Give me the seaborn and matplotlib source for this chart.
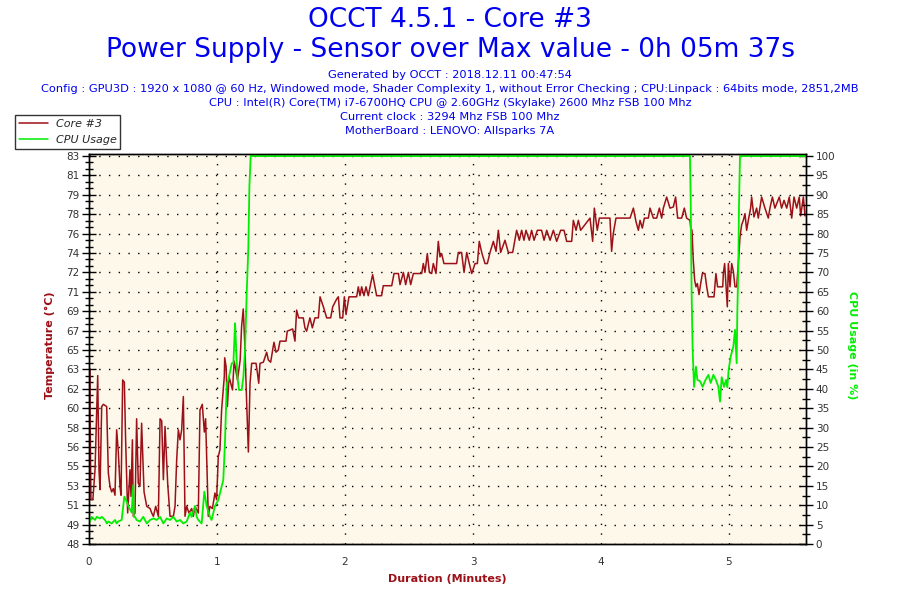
import numpy as np
import pandas as pd
import seaborn as sns
import matplotlib.pyplot as plt
from matplotlib.ticker import MultipleLocator, FixedLocator
from matplotlib.lines import Line2D

# Core #3 temperature (deg C) against duration (minutes)
t_core = [0.000, 0.005, 0.015, 0.030, 0.047, 0.068, 0.078, 0.086, 0.099, 0.112,
          0.138, 0.151, 0.164, 0.177, 0.190, 0.203, 0.216, 0.229, 0.242, 0.250,
          0.263, 0.276, 0.286, 0.302, 0.320, 0.328, 0.339, 0.346, 0.359, 0.372,
          0.385, 0.398, 0.411, 0.430, 0.451, 0.477, 0.490, 0.503, 0.521, 0.542,
          0.555, 0.568, 0.581, 0.594, 0.615, 0.633, 0.659, 0.672, 0.685, 0.698,
          0.711, 0.724, 0.737, 0.750, 0.763, 0.781, 0.802, 0.815, 0.828, 0.854,
          0.867, 0.885, 0.901, 0.911, 0.932, 0.945, 0.964, 0.984, 0.997, 1.010,
          1.023, 1.036, 1.057, 1.060, 1.071, 1.081, 1.094, 1.121, 1.134, 1.160,
          1.181, 1.192, 1.205, 1.218, 1.231, 1.245, 1.258, 1.271, 1.305, 1.315,
          1.326, 1.336, 1.362, 1.388, 1.401, 1.419, 1.435, 1.445, 1.461, 1.479,
          1.492, 1.539, 1.549, 1.591, 1.609, 1.622, 1.638, 1.674, 1.687, 1.700,
          1.726, 1.745, 1.765, 1.792, 1.805, 1.831, 1.857, 1.888, 1.904, 1.935,
          1.948, 1.961, 1.982, 1.995, 2.008, 2.031, 2.091, 2.104, 2.117, 2.130,
          2.148, 2.164, 2.182, 2.201, 2.216, 2.234, 2.247, 2.286, 2.299, 2.365,
          2.383, 2.417, 2.430, 2.456, 2.474, 2.495, 2.513, 2.534, 2.599, 2.612,
          2.625, 2.643, 2.659, 2.677, 2.690, 2.711, 2.729, 2.742, 2.755, 2.773,
          2.872, 2.885, 2.911, 2.930, 2.951, 2.971, 2.990, 3.016, 3.034, 3.049,
          3.068, 3.094, 3.112, 3.133, 3.159, 3.180, 3.198, 3.216, 3.250, 3.276,
          3.310, 3.341, 3.362, 3.380, 3.398, 3.414, 3.440, 3.458, 3.477, 3.503,
          3.536, 3.555, 3.576, 3.602, 3.628, 3.654, 3.685, 3.711, 3.732, 3.771,
          3.784, 3.805, 3.823, 3.841, 3.901, 3.914, 3.935, 3.948, 3.961, 3.971,
          3.987, 4.070, 4.083, 4.096, 4.117, 4.227, 4.253, 4.273, 4.292, 4.305,
          4.323, 4.339, 4.370, 4.383, 4.409, 4.435, 4.456, 4.474, 4.487, 4.513,
          4.539, 4.565, 4.583, 4.599, 4.630, 4.651, 4.669, 4.695, 4.701, 4.711,
          4.721, 4.732, 4.742, 4.753, 4.766, 4.779, 4.792, 4.812, 4.826, 4.839,
          4.883, 4.898, 4.911, 4.930, 4.951, 4.956, 4.966, 4.977, 4.987, 4.995,
          5.008, 5.021, 5.034, 5.047, 5.060, 5.073, 5.086, 5.099, 5.112, 5.125,
          5.138, 5.151, 5.169, 5.177, 5.195, 5.216, 5.229, 5.255, 5.281, 5.307,
          5.320, 5.339, 5.359, 5.393, 5.411, 5.430, 5.451, 5.471, 5.490, 5.508,
          5.529, 5.549, 5.560, 5.581, 5.594]
core_temp = [57.9, 63.7, 52.0, 52.0, 54.7, 63.2, 54.7, 52.9, 60.4, 60.6,
             60.4, 54.4, 53.2, 52.7, 53.0, 52.4, 58.3, 56.3, 53.2, 52.4,
             62.8, 62.6, 57.4, 50.8, 54.7, 52.3, 57.4, 50.5, 50.8, 59.3,
             53.5, 53.2, 58.9, 52.7, 51.4, 51.2, 50.8, 50.5, 51.4, 50.5,
             59.3, 59.1, 53.8, 58.6, 53.4, 50.5, 50.5, 51.4, 55.6, 58.3,
             57.4, 58.3, 61.3, 50.5, 51.4, 50.8, 51.2, 50.5, 51.4, 50.8,
             60.1, 60.6, 58.1, 59.3, 50.5, 51.4, 51.2, 52.6, 52.0, 55.9,
             56.5, 60.1, 63.1, 64.8, 64.0, 60.4, 63.1, 61.9, 64.5, 62.8,
             64.6, 67.6, 69.2, 65.8, 61.0, 56.3, 62.5, 64.3, 64.3, 63.5,
             62.5, 64.3, 64.4, 65.3, 64.6, 64.4, 65.5, 66.2, 65.3, 65.5,
             66.3, 66.3, 67.2, 67.4, 66.3, 69.1, 68.4, 68.4, 67.5, 67.2,
             68.4, 67.5, 68.4, 68.4, 70.3, 69.4, 68.4, 68.4, 69.4, 70.1,
             70.3, 68.4, 68.4, 70.3, 68.7, 70.3, 70.3, 71.2, 70.4, 71.2,
             70.4, 71.2, 70.4, 71.5, 72.3, 71.2, 70.4, 70.4, 71.3, 71.3,
             72.4, 72.4, 71.4, 72.5, 71.4, 72.5, 71.4, 72.4, 72.4, 73.3,
             72.5, 74.2, 72.5, 72.4, 73.3, 72.4, 75.3, 73.9, 74.2, 73.3,
             73.3, 74.3, 74.3, 72.5, 74.3, 73.3, 72.4, 73.3, 73.3, 75.3,
             74.3, 73.3, 73.3, 74.3, 75.3, 74.4, 76.3, 74.3, 75.4, 74.3,
             74.3, 76.3, 75.4, 76.3, 75.4, 76.3, 75.4, 76.3, 75.4, 76.3,
             76.3, 75.4, 76.3, 75.4, 76.3, 75.3, 76.3, 76.3, 75.3, 75.3,
             77.2, 76.3, 77.2, 76.3, 77.2, 77.4, 75.3, 78.3, 77.2, 76.3,
             77.4, 77.4, 74.4, 76.0, 77.4, 77.4, 78.3, 77.1, 76.3, 77.2,
             76.5, 77.4, 77.4, 78.3, 77.4, 77.4, 78.3, 77.4, 78.3, 79.3,
             78.3, 78.4, 79.3, 77.4, 77.4, 78.3, 77.4, 77.2, 76.5, 76.3,
             73.6, 71.8, 71.2, 71.5, 70.5, 71.5, 72.4, 72.4, 71.2, 70.3,
             70.3, 72.4, 71.2, 71.2, 71.2, 72.4, 73.3, 71.2, 69.4, 73.3,
             71.2, 73.3, 72.6, 71.2, 71.2, 73.3, 75.7, 76.8, 77.2, 77.8,
             76.3, 77.2, 78.3, 79.3, 77.5, 78.3, 77.4, 79.3, 78.3, 77.4,
             78.3, 79.3, 78.3, 79.3, 78.3, 79.0, 78.3, 79.3, 77.4, 79.3,
             78.3, 79.3, 77.6, 79.3, 77.6]

# CPU usage (%) against duration (minutes)
t_cpu = [0.000, 0.021, 0.047, 0.060, 0.086, 0.100, 0.125, 0.140, 0.151, 0.177,
         0.203, 0.216, 0.229, 0.255, 0.276, 0.294, 0.307, 0.333, 0.346, 0.350,
         0.359, 0.372, 0.398, 0.424, 0.451, 0.477, 0.503, 0.529, 0.555, 0.581,
         0.607, 0.633, 0.659, 0.685, 0.711, 0.737, 0.763, 0.789, 0.802, 0.828,
         0.841, 0.854, 0.880, 0.901, 0.919, 0.945, 0.958, 0.984, 1.010, 1.036,
         1.049, 1.062, 1.076, 1.089, 1.115, 1.128, 1.141, 1.148, 1.159, 1.172,
         1.193, 1.206, 1.219, 1.232, 1.245, 1.253, 1.263, 4.695, 4.701, 4.708,
         4.716, 4.727, 4.742, 4.753, 4.773, 4.794, 4.812, 4.839, 4.857, 4.878,
         4.898, 4.917, 4.930, 4.943, 4.961, 4.977, 4.987, 4.997, 5.013, 5.034,
         5.047, 5.060, 5.065, 5.073, 5.078, 5.086, 5.602]
cpu_usage = [5.3, 7.0, 6.2, 7.0, 6.6, 7.0, 6.2, 5.3, 5.8, 5.3,
             6.2, 5.3, 5.8, 6.2, 12.2, 11.0, 9.8, 8.1, 15.2, 7.0,
             7.0, 6.2, 5.8, 7.0, 5.3, 6.2, 6.6, 6.2, 7.0, 5.3,
             6.6, 6.2, 7.0, 5.8, 6.2, 5.3, 5.8, 8.1, 7.0, 9.8,
             7.0, 6.2, 5.3, 13.5, 9.8, 7.0, 6.2, 9.8, 11.3, 14.8,
             16.5, 26.0, 41.4, 42.3, 46.6, 46.6, 56.9, 51.7, 43.1, 39.7,
             39.7, 43.1, 50.0, 64.6, 76.6, 92.1, 100.0, 100.0, 88.2, 64.6,
             50.0, 40.5, 45.7, 42.3, 42.0, 40.5, 42.0, 43.6, 41.5, 43.6,
             42.3, 40.5, 36.7, 43.0, 40.5, 42.3, 40.4, 44.8, 48.3, 50.9,
             55.2, 46.6, 59.5, 71.5, 86.9, 100.0, 100.0]

temp_labels = ['48', '49', '51', '53', '55', '56', '58', '60', '62', '63', '65',
               '67', '69', '71', '72', '74', '76', '78', '79', '81', '83']

title_lines = ["OCCT 4.5.1 - Core #3",
               "Power Supply - Sensor over Max value - 0h 05m 37s"]
info_lines = ["Generated by OCCT : 2018.12.11 00:47:54",
              "Config : GPU3D : 1920 x 1080 @ 60 Hz, Windowed mode, Shader Complexity 1, without Error Checking ; CPU:Linpack : 64bits mode, 2851,2MB",
              "CPU : Intel(R) Core(TM) i7-6700HQ CPU @ 2.60GHz (Skylake) 2600 Mhz FSB 100 Mhz",
              "Current clock : 3294 Mhz FSB 100 Mhz",
              "MotherBoard : LENOVO: Allsparks 7A"]

RED = '#9c1018'
GREEN = '#00ee00'
BLUE = '#0000ee'

sns.set_style('white')
plt.rcParams['font.family'] = ['DejaVu Sans']

df_core = pd.DataFrame({'duration': t_core, 'temp': core_temp})
df_cpu = pd.DataFrame({'duration': t_cpu, 'usage': cpu_usage})

fig = plt.figure(figsize=(9, 6), dpi=100)
# plot frame sits a couple of pixels above the 100 % / 83 level
ax = fig.add_axes([0.0989, 0.0933, 0.7967, 0.6500])
ax.set_facecolor('#fdf8ea')
ax2 = ax.twinx()

sns.lineplot(data=df_core, x='duration', y='temp', ax=ax, color=RED,
             linewidth=1.1, estimator=None, sort=False)
sns.lineplot(data=df_cpu, x='duration', y='usage', ax=ax2, color=GREEN,
             linewidth=1.3, estimator=None, sort=False)

ax.set_xlim(0, 5.602)
ax.set_ylim(48, 83.18)
ax2.set_ylim(0, 100.52)

temp_ticks = np.linspace(48, 83, 21)
ax.yaxis.set_major_locator(FixedLocator(temp_ticks))
ax.set_yticklabels(temp_labels)
ax.yaxis.set_minor_locator(FixedLocator(np.arange(48, 83.01, 1.75 / 3)))
ax.xaxis.set_major_locator(MultipleLocator(1))
ax.xaxis.set_minor_locator(MultipleLocator(0.2))
ax2.yaxis.set_major_locator(FixedLocator(np.arange(0, 101, 5)))
ax2.yaxis.set_minor_locator(FixedLocator(np.arange(2.5, 100, 5)))

for a in (ax, ax2):
    a.tick_params(which='major', direction='inout', length=10, width=1,
                  colors='black', labelsize=7.5, labelcolor='#333333', pad=2)
    a.tick_params(which='minor', direction='inout', length=6, width=1,
                  colors='black')
    for s in a.spines.values():
        s.set_color('black')
        s.set_linewidth(1)
ax2.tick_params(axis='y', right=True, which='both')
ax.tick_params(axis='x', which='both', direction='out', length=4, pad=5)

ax.grid(True, which='major', color='black', linestyle=(0, (1, 6)), linewidth=1)
ax.set_axisbelow(True)
ax.set_xlabel('')
ax.set_ylabel('')
ax2.set_ylabel('')

fig.text(0.5, 0.966, title_lines[0], ha='center', va='center', color=BLUE, fontsize=19)
fig.text(0.5, 0.916, title_lines[1], ha='center', va='center', color=BLUE, fontsize=19)
for i, line in enumerate(info_lines):
    fig.text(0.5, 0.875 - i * 0.0235, line, ha='center', va='center',
             color=BLUE, fontsize=8.2)

fig.text(0.497, 0.035, 'Duration (Minutes)', ha='center', va='center',
         color=RED, fontsize=8, fontweight='bold')
fig.text(0.056, 0.425, 'Temperature (°C)', ha='center', va='center',
         rotation=90, color=RED, fontsize=8, fontweight='bold')
fig.text(0.947, 0.425, 'CPU Usage (in %)', ha='center', va='center',
         rotation=270, color=GREEN, fontsize=8, fontweight='bold')

handles = [Line2D([], [], color=RED, linewidth=1.1),
           Line2D([], [], color=GREEN, linewidth=1.1)]
leg = fig.legend(handles, ['Core #3', 'CPU Usage'], loc='upper left',
                 bbox_to_anchor=(0.0167, 0.808), borderaxespad=0, frameon=True,
                 fancybox=False, handlelength=2.6, handletextpad=0.7,
                 borderpad=0.35, labelspacing=0.55,
                 prop={'style': 'italic', 'size': 8})
leg.get_frame().set_edgecolor('black')
leg.get_frame().set_linewidth(1)

fig.savefig('out.png', dpi=100)
